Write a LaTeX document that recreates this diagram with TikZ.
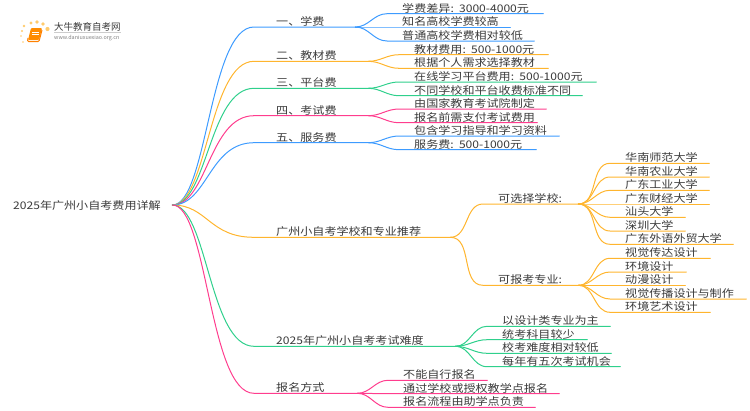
\documentclass[tikz,border=0pt]{standalone}
\usepackage{fontspec}
\setmainfont[FakeStretch=1.15]{Noto Sans CJK SC}
\newfontfamily\logofont{Noto Sans CJK SC}
\usetikzlibrary{calc}

\definecolor{mblue}{HTML}{3D9BFF}
\definecolor{morange}{HTML}{FFB52E}
\definecolor{mgreen}{HTML}{2FD08C}
\definecolor{mpink}{HTML}{FF3D8E}
\definecolor{mtext}{HTML}{3A3A3A}

\tikzset{
	lab/.style={anchor=south west, inner sep=0pt, text width=#1, align=left, text depth=1.3pt, text height=9pt, text=mtext, font=\fontsize{10.5}{12}\selectfont},
	wire/.style={draw=#1, line width=1pt, line cap=round},
}

% #1 parent, #2 colour, #3 x of the texts, #4 list
\newcommand{\leaves}[4]{
	\foreach [count=\i] \y/\xend/\txt in {#4}{
		\pgfmathsetmacro{\labw}{\xend-#3}
		\node[lab=\labw pt](#1-\i) at(#3,\y) {\txt};
		\draw[wire=#2] (#1.south east) to[out=0,in=180] ($(#1-\i.south west)+(-15,0)$) -- (#1-\i.south east);
	}
}

\begin{document}
\begin{tikzpicture}[x=1pt,y=-1pt]
\useasboundingbox (0,0) rectangle (750,410);

% logo
\foreach [count=\i] \x/\y/\r in {
	24/26/1.3
	,31/23/1.7
	,37/22/1.8
	,43/24/1.8
	,47.5/29/2.1
	,22/31/1.1
	,21/36/.9
	,23/42/.8
}{
	\fill[morange!70] (\x,\y) circle (\r);
}
\fill[orange!90!yellow, rounded corners=1pt] (31,28) -- (42,28) -- (39,40) -- (28,40) -- cycle;
\draw[orange, line width=1pt, rounded corners=1pt] (28,38) -- (27.5,41.5) -- (39,41.5) -- (42,30);
\draw[white, line width=.6pt] (32,32) -- (39,32) (31.5,34.5) -- (38.5,34.5);
\node[anchor=west, inner sep=0pt, text=mtext, font=\logofont\fontsize{9.5}{10}\selectfont](logo) at(54,27) {大牛教育自考网};
\node[anchor=north west, inner sep=0pt, text=gray, font=\logofont\fontsize{5.4}{6}\selectfont](url) at(54,35) {www.daniuxuexiao.org.cn};
\draw[gray!40, line width=.5pt] (logo.south west) ++(0,1) -- ++(67,0);

\node[anchor=west, inner sep=0pt, text width=159pt, align=left, text height=8pt, text depth=0pt, text=mtext, font=\fontsize{10.5}{12}\selectfont](root) at(13,205) {2025年广州小自考费用详解};

\foreach \n/\y/\xend/\col/\txt in {
	a/27/355/mblue/一、学费
	,b/61.3/368/morange/二、教材费
	,c/88.3/368/mgreen/三、平台费
	,d/115.7/368/mpink/四、考试费
	,e/142.7/368/mblue/五、服务费
	,f/237.3/450/morange/广州小自考学校和专业推荐
	,g/346.3/455/mgreen/2025年广州小自考考试难度
	,h/393.3/357/mpink/报名方式
}{
	\pgfmathsetmacro{\labw}{\xend-276}
	\node[lab=\labw pt](\n) at(276,\y) {\txt};
	\draw[wire=\col] (root.east) .. controls +(35,0) and +(-45,0) .. ($(\n.south west)+(-22,0)$) -- (\n.south east);
}

\leaves{a}{mblue}{402}{13.7/543/学费差异: 3000-4000元, 27/510/知名高校学费较高, 41/534/普通高校学费相对较低}
\leaves{b}{morange}{414}{54.7/548/教材费用: 500-1000元, 68.3/548/根据个人需求选择教材}
\leaves{c}{mgreen}{414}{82/596/在线学习平台费用: 500-1000元, 95.7/582/不同学校和平台收费标准不同}
\leaves{d}{mpink}{414}{109/546/由国家教育考试院制定, 122.7/537/报名前需支付考试费用}
\leaves{e}{mblue}{414}{136/559/包含学习指导和学习资料, 149.7/536/服务费: 500-1000元}
\leaves{f}{morange}{498}{204/578/可选择学校:, 285.3/578/可报考专业:}
\leaves{f-1}{morange}{625}{163.3/709/华南师范大学, 177/709/华南农业大学, 190.3/709/广东工业大学, 204/709/广东财经大学, 217.3/685/汕头大学, 231/685/深圳大学, 244.3/733/广东外语外贸大学}
\leaves{f-2}{morange}{625}{258.3/710/视觉传达设计, 272/686/环境设计, 285.3/685/动漫设计, 299/746/视觉传播设计与制作, 312.3/710/环境艺术设计}
\leaves{g}{mgreen}{502}{326.3/610/以设计类专业为主, 339.7/587/统考科目较少, 353.3/611/校考难度相对较低, 366.7/620/每年有五次考试机会}
\leaves{h}{mpink}{403}{380.3/487/不能自行报名, 393.7/559/通过学校或授权教学点报名, 407.3/535/报名流程由助学点负责}

\end{tikzpicture}
\end{document}
